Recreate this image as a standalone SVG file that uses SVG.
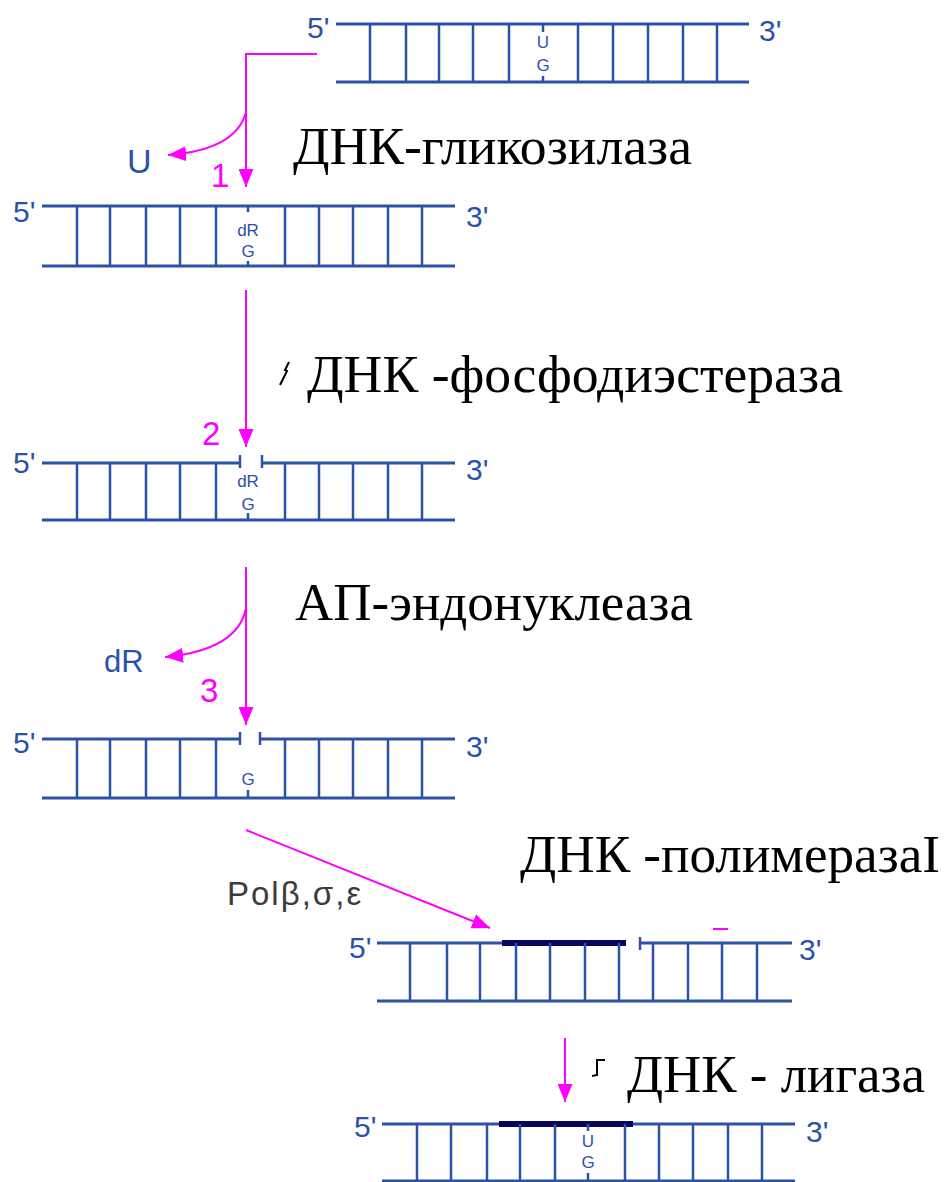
<svg xmlns="http://www.w3.org/2000/svg" width="945" height="1182" viewBox="0 0 945 1182">
  <style>
    .strand { stroke: #2B52A6; stroke-width: 3; fill: none; }
    .rung { stroke: #2B52A6; stroke-width: 2.5; fill: none; }
    .patch { stroke: #06065E; stroke-width: 6; fill: none; }
    .end { font-family: "Liberation Sans", Arial, sans-serif; font-size: 30px; fill: #2B52A6; }
    .base { font-family: "Liberation Sans", Arial, sans-serif; fill: #2B52A6; text-anchor: middle; font-size: 17px; }
    .step { font-family: "Liberation Sans", Arial, sans-serif; font-size: 33px; fill: #FF00FF; }
    .enzyme { font-family: "Liberation Serif", "Times New Roman", serif; font-size: 53px; fill: #000; }
    .flow { stroke: #FF00FF; stroke-width: 2; fill: none; }
    .mark { stroke: #000; stroke-width: 2; fill: none; }
  </style>
  <defs>
    <marker id="head" viewBox="0 0 18 15" refX="18" refY="7.5" markerWidth="18" markerHeight="15" markerUnits="userSpaceOnUse" orient="auto">
      <path d="M0,0 L18,7.5 L0,15 z" fill="#FF00FF"/>
    </marker>
  </defs>

  <!-- duplex with uracil paired to G -->
  <g id="dna-uracil">
    <path class="strand" d="M336 24H749 M336 82H749"/>
    <path class="rung" d="M370 24V82 M406 24V82 M439 24V82 M473 24V82 M509 24V82 M578 24V82 M613 24V82 M648 24V82 M683 24V82 M717 24V82 M543 24V32 M543 76V82"/>
    <text class="base" x="543" y="48" font-size="18">U</text>
    <text class="base" x="543" y="71" font-size="18">G</text>
    <text class="end" x="307" y="38">5'</text>
    <text class="end" x="759" y="41">3'</text>
  </g>

  <!-- duplex with abasic deoxyribose -->
  <g id="dna-abasic">
    <path class="strand" d="M42 206H455 M42 266H455"/>
    <path class="rung" d="M77 206V266 M110 206V266 M146 206V266 M180 206V266 M216 206V266 M285 206V266 M319 206V266 M353 206V266 M388 206V266 M422 206V266 M248 206V212 M248 261V266"/>
    <text class="base" x="248" y="236">dR</text>
    <text class="base" x="248" y="257">G</text>
    <text class="end" x="13" y="222">5'</text>
    <text class="end" x="466" y="227">3'</text>
  </g>

  <!-- duplex nicked on the 5' side of dR -->
  <g id="dna-nicked">
    <path class="strand" d="M42 463H240 M262 463H455 M42 520H455"/>
    <path class="rung" d="M77 463V520 M110 463V520 M146 463V520 M180 463V520 M216 463V520 M285 463V520 M319 463V520 M353 463V520 M388 463V520 M422 463V520 M248 513V520 M240 455V468 M262 455V468"/>
    <text class="base" x="248" y="487">dR</text>
    <text class="base" x="248" y="510">G</text>
    <text class="end" x="13" y="473">5'</text>
    <text class="end" x="466" y="480">3'</text>
  </g>

  <!-- duplex with one-nucleotide gap -->
  <g id="dna-gap">
    <path class="strand" d="M42 739H240 M260 739H455 M42 798H455"/>
    <path class="rung" d="M77 739V798 M110 739V798 M146 739V798 M180 739V798 M216 739V798 M285 739V798 M319 739V798 M353 739V798 M388 739V798 M422 739V798 M248 790V798 M240 732V745 M260 732V745"/>
    <text class="base" x="248" y="785" font-size="18">G</text>
    <text class="end" x="13" y="753">5'</text>
    <text class="end" x="466" y="757">3'</text>
  </g>

  <!-- duplex after repair synthesis -->
  <g id="dna-filled">
    <path class="strand" d="M377 943H502 M640 943H792 M377 1001H792"/>
    <path class="patch" d="M502 943H626"/>
    <path class="rung" d="M410 943V1001 M447 943V1001 M480 943V1001 M516 943V1001 M550 943V1001 M585 943V1001 M619 943V1001 M653 943V1001 M688 943V1001 M722 943V1001 M757 943V1001 M640 937V950"/>
    <path d="M713 929H728" stroke="#FF00FF" stroke-width="2"/>
    <text class="end" x="349" y="958">5'</text>
    <text class="end" x="799" y="960">3'</text>
  </g>

  <!-- ligated duplex -->
  <g id="dna-ligated">
    <path class="strand" d="M382 1124H795 M382 1181H795"/>
    <path class="patch" d="M499 1124H633"/>
    <path class="rung" d="M417 1124V1181 M451 1124V1181 M487 1124V1181 M520 1124V1181 M555 1124V1181 M625 1124V1181 M659 1124V1181 M693 1124V1181 M728 1124V1181 M762 1124V1181 M588 1124V1131 M588 1173V1181"/>
    <text class="base" x="588" y="1147">U</text>
    <text class="base" x="588" y="1168">G</text>
    <text class="end" x="354" y="1137">5'</text>
    <text class="end" x="806" y="1142">3'</text>
  </g>

  <!-- enzyme names -->
  <g id="label-glycosylase"><text class="enzyme" x="293" y="164" textLength="399" lengthAdjust="spacingAndGlyphs">ДНК-гликозилаза</text></g>
  <g id="label-phosphodiesterase"><text class="enzyme" x="307" y="392" textLength="536" lengthAdjust="spacingAndGlyphs">ДНК -фосфодиэстераза</text><path class="mark" d="M289 362 L285 370 L287 371 L280 385"/></g>
  <g id="label-ap-endonuclease"><text class="enzyme" x="295" y="620" textLength="398" lengthAdjust="spacingAndGlyphs">АП-эндонуклеаза</text></g>
  <g id="label-polymerase"><text class="enzyme" x="520" y="872" textLength="420" lengthAdjust="spacingAndGlyphs">ДНК -полимеразаI</text></g>
  <g id="label-ligase"><text class="enzyme" x="627" y="1092" textLength="298" lengthAdjust="spacingAndGlyphs">ДНК - лигаза</text><path class="mark" d="M605 1060 H597 V1075 L592 1076"/></g>
  <g id="label-pol"><text x="227" y="905" font-family="Liberation Sans, Arial, sans-serif" font-size="33" fill="#3C3C3C" letter-spacing="2">Polβ,σ,ε</text></g>

  <!-- released products and step numbers -->
  <g id="product-u"><text x="127" y="173" font-family="Liberation Sans, Arial, sans-serif" font-size="34" fill="#2B52A6">U</text></g>
  <g id="product-dr"><text x="104" y="672" font-family="Liberation Sans, Arial, sans-serif" font-size="31" fill="#2B52A6">dR</text></g>
  <g id="step-1"><text class="step" x="211" y="187">1</text></g>
  <g id="step-2"><text class="step" x="202" y="445">2</text></g>
  <g id="step-3"><text class="step" x="200" y="702">3</text></g>

  <!-- pathway arrows -->
  <g id="connectors">
    <path class="flow" d="M317 54H246V187" marker-end="url(#head)"/>
    <path class="flow" d="M246 112 Q236 150 168 155" marker-end="url(#head)"/>
    <path class="flow" d="M246 290V447" marker-end="url(#head)"/>
    <path class="flow" d="M246 567V725" marker-end="url(#head)"/>
    <path class="flow" d="M246 608 Q238 650 165 657" marker-end="url(#head)"/>
    <path class="flow" d="M246 830L490 928" stroke-width="1.6" marker-end="url(#head)"/>
    <path class="flow" d="M565 1038V1102" marker-end="url(#head)"/>
  </g>
</svg>
